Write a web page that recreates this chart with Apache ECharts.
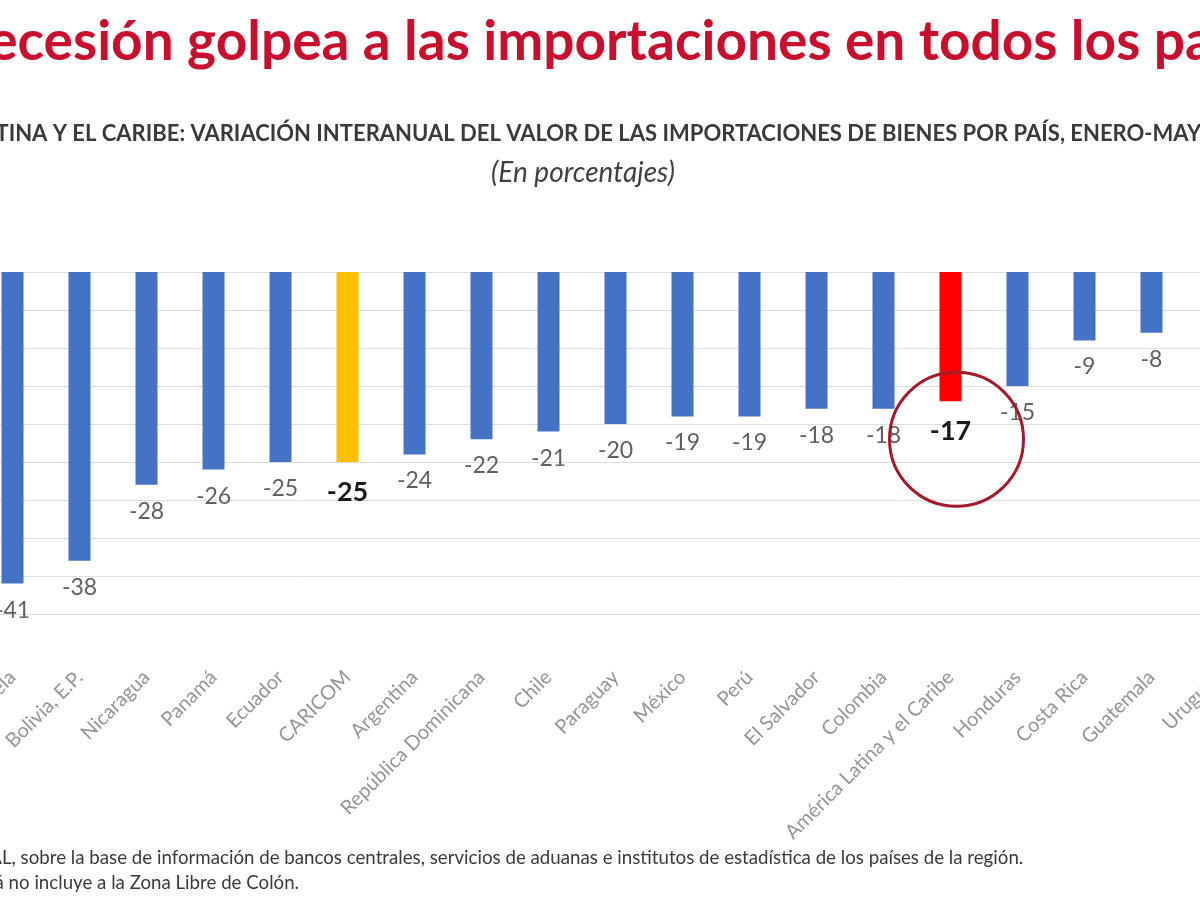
<!DOCTYPE html>
<html>
<head>
<meta charset="utf-8">
<script src="https://cdn.jsdelivr.net/npm/echarts@6/dist/echarts.min.js"></script>
<style>
html,body{margin:0;padding:0;background:#fff;}
#chart{width:1200px;height:900px;}
</style>
</head>
<body>
<div id="chart"></div>
<script>
// ---- data ----
const categories = ['Venezuela', 'Bolivia, E.P.', 'Nicaragua', 'Panamá', 'Ecuador', 'CARICOM', 'Argentina',
  'República Dominicana', 'Chile', 'Paraguay', 'México', 'Perú', 'El Salvador', 'Colombia',
  'América Latina y el Caribe', 'Honduras', 'Costa Rica', 'Guatemala', 'Uruguay'];
const values = [-41, -38, -28, -26, -25, -25, -24, -22, -21, -20, -19, -19, -18, -18, -17, -15, -9, -8, -7];
const highlightYellow = ['CARICOM'];
const highlightRed = ['América Latina y el Caribe'];
const circleAnnotation = ['América Latina y el Caribe', -22];
const yTicks = { min: -45, max: 0, interval: 5 };

const titleText = 'La recesión golpea a las importaciones en todos los países';
const subtitleText = 'AMÉRICA LATINA Y EL CARIBE: VARIACIÓN INTERANUAL DEL VALOR DE LAS IMPORTACIONES DE BIENES POR PAÍS, ENERO-MAYO DE 2020';
const unitText = '(En porcentajes)';
const sourceText = 'Fuente: CEPAL, sobre la base de información de bancos centrales, servicios de aduanas e institutos de estadística de los países de la región.';
const noteText = 'Nota: Panamá no incluye a la Zona Libre de Colón.';

// ---- helpers ----
const cv = document.createElement('canvas').getContext('2d');
function tw(str, font){ cv.font = font; return cv.measureText(str).width; }

const BLUE = '#4472C4', YELLOW = '#FFC000', RED = '#FF0000';

const barData = categories.map((c, i) => {
  const isY = highlightYellow.includes(c), isR = highlightRed.includes(c);
  const d = { value: values[i], itemStyle: { color: isY ? YELLOW : (isR ? RED : BLUE) } };
  if (isY || isR) {
    d.label = { fontWeight: 'bold', fontSize: 27, color: '#1a1a1a', distance: 17 };
  }
  return d;
});

const titleFont = 'bold 55px Lato';
const subFont = 'bold 22px Lato';
const footFont = '18.7px Lato';

const chart = echarts.init(document.getElementById('chart'), null, { renderer: 'canvas' });
chart.setOption({
  backgroundColor: '#ffffff',
  animation: false,
  grid: { left: -21, width: 1273, top: 272, height: 342, outerBoundsMode: 'none', containLabel: false },
  xAxis: {
    type: 'category', data: categories, position: 'bottom',
    axisLine: { show: false, onZero: false }, axisTick: { show: false },
    axisLabel: { rotate: 45, margin: 60, color: '#959595', fontFamily: 'Lato', fontSize: 20, interval: 0 }
  },
  yAxis: {
    type: 'value', min: yTicks.min, max: yTicks.max, interval: yTicks.interval,
    axisLabel: { show: false }, axisLine: { show: false }, axisTick: { show: false },
    splitLine: { lineStyle: { color: '#DEDEDE', width: 1 } }
  },
  series: [{
    type: 'bar', data: barData, barWidth: 22,
    label: { show: true, position: 'bottom', distance: 15, color: '#606060', fontFamily: 'Lato', fontSize: 23 },
    markPoint: {
      symbol: 'circle', symbolSize: 134, symbolOffset: [6, 0], silent: true,
      itemStyle: { color: 'rgba(0,0,0,0)', borderColor: '#A31A2A', borderWidth: 3 },
      label: { show: false },
      data: [{ coord: circleAnnotation }]
    }
  }],
  graphic: [
    { type: 'text', x: -tw('La r', titleFont) - 11, y: 42,
      style: { text: titleText, font: titleFont, fill: '#C8102E', verticalAlign: 'middle' } },
    { type: 'text', x: -tw('AMÉRICA LA', subFont) - 3, y: 134,
      style: { text: subtitleText, font: subFont, fill: '#3a3a3a', verticalAlign: 'middle' } },
    { type: 'text', x: 583, y: 173,
      style: { text: unitText, font: 'italic 28px Lato', fill: '#404040', align: 'center', verticalAlign: 'middle' } },
    { type: 'text', x: -tw('Fuente: CEPA', footFont) + 2, y: 858,
      style: { text: sourceText, font: footFont, fill: '#3a3a3a', verticalAlign: 'middle' } },
    { type: 'text', x: -tw('Fuente: CEPA', footFont) + 2, y: 883,
      style: { text: noteText, font: footFont, fill: '#3a3a3a', verticalAlign: 'middle' } }
  ]
});
</script>
</body>
</html>
